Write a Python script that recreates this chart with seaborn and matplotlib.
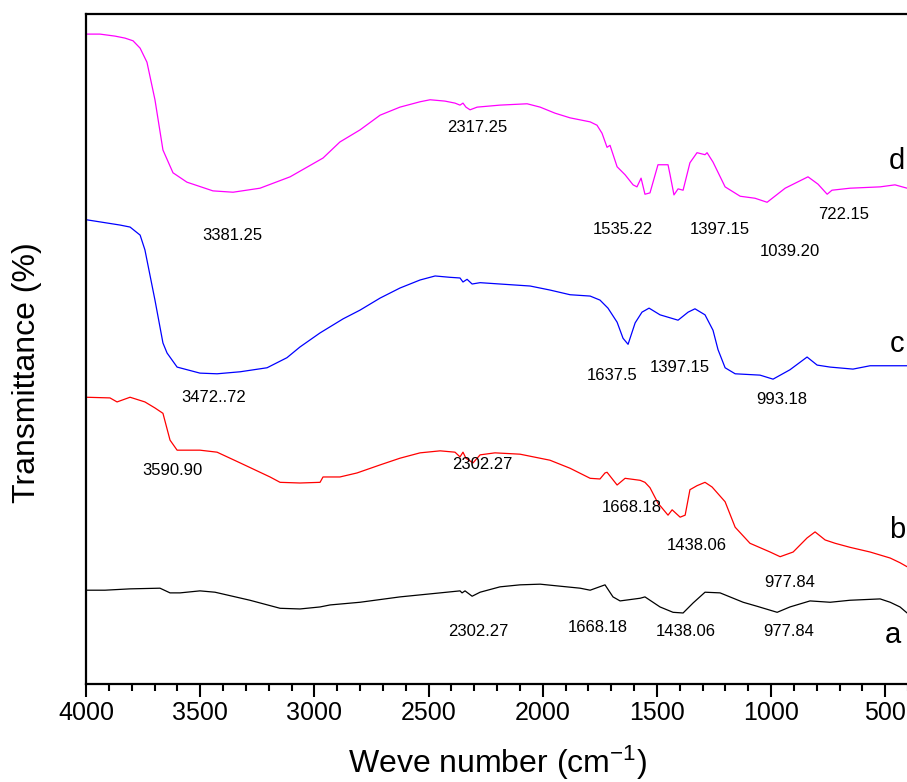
import matplotlib
matplotlib.use("Agg")
import matplotlib.pyplot as plt
from matplotlib.ticker import MultipleLocator
import seaborn as sns
import pandas as pd

# wavenumber (cm-1) / transmittance (stacked, arbitrary %)
wn_a = [4000, 3917, 3807, 3676, 3632, 3588, 3501, 3435, 3282, 3150, 3063, 2975, 2931, 2800,
        2625, 2449, 2362, 2353, 2340, 2309, 2274, 2187, 2099, 2011, 1924, 1836, 1792, 1727,
        1692, 1661, 1573, 1552, 1486, 1429, 1385, 1341, 1289, 1223, 1122, 1061, 973, 917,
        829, 741, 654, 522, 478, 435, 404]
t_a = [14.0, 14.0, 14.2, 14.3, 13.6, 13.6, 13.9, 13.7, 12.5, 11.3, 11.2, 11.5, 11.8, 12.2,
       13.0, 13.6, 13.9, 13.6, 13.9, 13.1, 13.7, 14.5, 14.8, 14.9, 14.6, 14.3, 14.0, 14.8,
       13.0, 12.4, 12.8, 13.0, 11.5, 10.7, 10.6, 12.1, 13.7, 13.6, 12.2, 11.6, 10.7, 11.5,
       12.4, 12.2, 12.5, 12.7, 12.2, 11.5, 10.6]

wn_b = [4000, 3895, 3864, 3807, 3742, 3698, 3663, 3632, 3601, 3501, 3426, 3325, 3194, 3150,
        3063, 2975, 2962, 2888, 2813, 2712, 2625, 2537, 2449, 2384, 2362, 2349, 2336, 2305,
        2274, 2209, 2099, 1968, 1880, 1792, 1749, 1727, 1718, 1674, 1639, 1573, 1552, 1530,
        1495, 1451, 1433, 1398, 1376, 1355, 1324, 1289, 1258, 1201, 1157, 1092, 1004, 960,
        903, 842, 807, 763, 719, 654, 566, 478, 435, 404]
t_b = [42.8, 42.7, 42.1, 42.8, 42.1, 41.2, 40.4, 36.4, 34.9, 34.9, 34.6, 33.0, 30.9, 30.1,
       30.0, 30.1, 30.9, 30.9, 31.5, 32.7, 33.7, 34.5, 34.8, 34.6, 33.9, 34.6, 33.7, 33.0,
       34.2, 34.5, 34.3, 33.4, 32.2, 30.7, 30.6, 31.5, 31.6, 29.7, 30.7, 30.4, 30.1, 29.3,
       27.0, 25.2, 26.0, 24.9, 25.2, 29.0, 29.6, 30.1, 29.4, 27.2, 23.4, 21.0, 19.7, 19.0,
       19.7, 21.8, 22.7, 21.5, 21.0, 20.4, 19.7, 18.8, 18.1, 17.5]

wn_c = [4000, 3851, 3807, 3763, 3742, 3698, 3663, 3645, 3601, 3501, 3426, 3325, 3207, 3120,
        3063, 2975, 2874, 2800, 2712, 2625, 2537, 2471, 2406, 2362, 2349, 2331, 2309, 2274,
        2187, 2055, 1968, 1880, 1792, 1749, 1714, 1674, 1648, 1626, 1595, 1565, 1534, 1486,
        1407, 1363, 1333, 1289, 1254, 1232, 1201, 1157, 1048, 991, 917, 842, 798, 741, 641,
        566, 404]
t_c = [69.3, 68.5, 68.2, 67.0, 64.8, 57.3, 50.9, 49.4, 47.3, 46.4, 46.3, 46.6, 47.2, 48.7,
       50.3, 52.4, 54.5, 55.8, 57.6, 59.1, 60.3, 60.9, 60.7, 60.6, 60.0, 60.4, 59.7, 59.9,
       59.7, 59.4, 58.8, 58.1, 57.9, 57.3, 56.1, 54.0, 51.6, 50.7, 53.9, 55.5, 56.1, 55.1,
       54.3, 55.5, 56.0, 55.1, 52.8, 49.9, 47.2, 46.3, 46.1, 45.5, 46.9, 48.8, 47.6, 47.3,
       47.0, 47.5, 47.5]

wn_d = [4000, 3939, 3873, 3829, 3794, 3763, 3733, 3698, 3663, 3619, 3558, 3444, 3356, 3238,
        3106, 2962, 2888, 2800, 2712, 2625, 2537, 2493, 2428, 2384, 2362, 2349, 2336, 2318,
        2287, 2187, 2068, 2011, 1946, 1880, 1792, 1762, 1740, 1718, 1705, 1674, 1639, 1604,
        1587, 1569, 1552, 1530, 1495, 1451, 1442, 1425, 1407, 1385, 1355, 1324, 1289, 1280,
        1254, 1201, 1135, 1070, 1017, 938, 838, 794, 754, 733, 654, 522, 457, 404]
t_d = [97.0, 97.0, 96.7, 96.4, 96.0, 94.9, 92.8, 87.2, 79.7, 76.3, 74.9, 73.6, 73.4, 74.0,
       75.7, 78.5, 80.9, 82.7, 84.9, 86.1, 86.9, 87.2, 87.0, 86.7, 86.4, 86.7, 86.1, 85.7,
       86.1, 86.4, 86.6, 86.1, 85.2, 84.5, 83.9, 83.4, 82.2, 80.1, 80.4, 77.2, 76.0, 74.5,
       74.2, 75.5, 73.1, 73.3, 77.5, 77.5, 76.0, 73.0, 73.9, 73.7, 77.8, 79.3, 79.0, 79.3,
       77.9, 74.2, 72.8, 72.5, 71.9, 74.0, 75.7, 74.6, 73.1, 73.7, 74.0, 74.2, 74.5, 74.0]

samples = ["a", "b", "c", "d"]
colors = ["black", "#ff0000", "#0000ff", "#ff00ff"]

# peak labels: text, x, y
peak_text = ["2302.27", "1668.18", "1438.06", "977.84",
             "3590.90", "2302.27", "1668.18", "1438.06", "977.84",
             "3472..72", "1637.5", "1397.15", "993.18",
             "3381.25", "2317.25", "1535.22", "1397.15", "1039.20", "722.15"]
peak_x = [2283, 1757, 1372, 921,
          3623, 2265, 1609, 1324, 917,
          3439, 1696, 1398, 952,
          3361, 2287, 1648, 1223, 917, 684]
peak_y = [7.9, 8.5, 7.9, 7.9,
          31.9, 32.8, 26.4, 20.7, 15.2,
          42.8, 46.1, 47.3, 42.4,
          66.9, 83.0, 67.9, 67.9, 64.5, 70.1]

letter_x = [466, 448, 448, 448]
letter_y = [7.3, 23.0, 50.7, 78.1]

frames = []
for s, w, t in zip(samples, [wn_a, wn_b, wn_c, wn_d], [t_a, t_b, t_c, t_d]):
    frames.append(pd.DataFrame({"wavenumber": w, "T": t, "sample": s}))
df = pd.concat(frames, ignore_index=True)

sns.set_style("white")
plt.rcParams["font.family"] = ["Liberation Sans", "DejaVu Sans"]
plt.rcParams["mathtext.default"] = "regular"
plt.rcParams["axes.unicode_minus"] = False
plt.rcParams["text.color"] = "black"
plt.rcParams["axes.labelcolor"] = "black"
plt.rcParams["xtick.color"] = "black"

fig = plt.figure(figsize=(9.07, 7.82), dpi=100)
ax = fig.add_axes([86 / 907, 1 - 684 / 782, 822 / 907, 670 / 782])

sns.lineplot(data=df, x="wavenumber", y="T", hue="sample", palette=colors,
             hue_order=samples, estimator=None, sort=False, linewidth=0.9,
             legend=False, ax=ax)

for txt, x, y in zip(peak_text, peak_x, peak_y):
    ax.text(x, y, txt, fontsize=12, ha="center", va="center", color="black")
for s, x, y in zip(samples, letter_x, letter_y):
    ax.text(x, y, s, fontsize=21, ha="center", va="center", color="black")

ax.set_xlim(4000, 400)
ax.set_ylim(0, 100)
ax.xaxis.set_major_locator(MultipleLocator(500))
ax.xaxis.set_minor_locator(MultipleLocator(100))
ax.set_yticks([])
ax.tick_params(axis="x", which="major", direction="out", length=9, width=1.5,
               labelsize=18, pad=3, bottom=True, colors="black")
ax.tick_params(axis="x", which="minor", direction="out", length=5, width=1.5, bottom=True)
for side in ["left", "bottom", "top"]:
    ax.spines[side].set_linewidth(1.6)
    ax.spines[side].set_color("black")
ax.spines["right"].set_visible(False)

ax.set_xlabel("Weve number (cm$^{-1}$)", fontsize=23, labelpad=14)
ax.set_ylabel("Transmittance (%)", fontsize=23)
ax.yaxis.set_label_coords(-44 / 822, (684 - 373) / 670)

fig.savefig("out.png", dpi=100)
